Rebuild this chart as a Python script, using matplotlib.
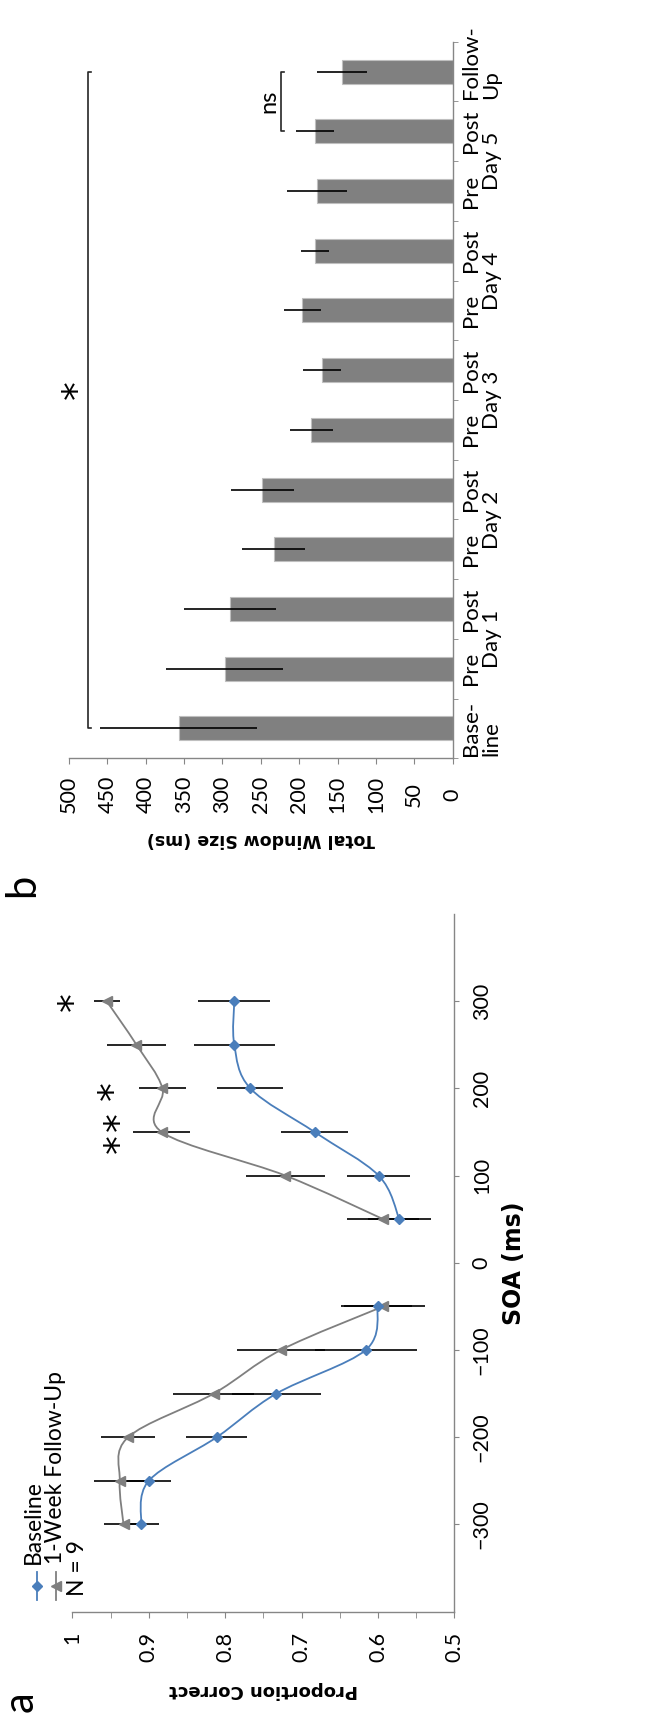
import numpy as np
import matplotlib
matplotlib.use('Agg')
import matplotlib.pyplot as plt
from matplotlib.path import Path
from matplotlib.patches import PathPatch
from matplotlib.lines import Line2D

plt.rcParams['font.family'] = ['Lato', 'DejaVu Sans']

# ---- panel a data ----
soa = [-300, -250, -200, -150, -100, -50, 50, 100, 150, 200, 250, 300]
baseline = [0.910, 0.900, 0.811, 0.733, 0.616, 0.600, 0.572, 0.599, 0.683, 0.767, 0.788, 0.788]
baseline_err = [0.023, 0.029, 0.040, 0.058, 0.067, 0.045, 0.041, 0.041, 0.044, 0.043, 0.053, 0.047]
followup = [0.933, 0.938, 0.927, 0.815, 0.727, 0.593, 0.593, 0.721, 0.883, 0.882, 0.916, 0.955]
followup_err = [0.026, 0.034, 0.035, 0.053, 0.058, 0.055, 0.047, 0.052, 0.037, 0.031, 0.038, 0.017]
prop_ticks = [0.5, 0.6, 0.7, 0.8, 0.9, 1.0]
prop_labels = ['0.5', '0.6', '0.7', '0.8', '0.9', '1']
soa_ticks = [-300, -200, -100, 0, 100, 200, 300]
stars_a = [(1.006, 300, '*'), (0.954, 198, '*'), (0.946, 149, '**')]

# ---- panel b data ----
cat_labels = ['Base-\nline', 'Pre', 'Post', 'Pre', 'Post', 'Pre', 'Post',
              'Pre', 'Post', 'Pre', 'Post', 'Follow-\nUp']
window = [357, 297, 290, 233, 248, 184, 170, 196, 179, 177, 179, 144]
window_err = [102, 76, 60, 41, 41, 28, 25, 24, 18, 39, 25, 33]
day_labels = ['Day 1', 'Day 2', 'Day 3', 'Day 4', 'Day 5']
# (first cat, last cat, value, text, text value, text cat)
brackets = [(0, 11, 475, '*', 496, 5.67), (10, 11, 224, 'ns', 240, 10.5)]

blue = '#4A7EBB'
grey = '#7F7F7F'
axis_col = '#868686'
star_kw = dict(family='DejaVu Sans', fontsize=27)


def smooth_path(xs, ys):
    # excel-style smoothed line: catmull-rom segments as cubic beziers
    p = np.column_stack([xs, ys])
    n = len(p)
    verts = [p[0]]
    codes = [Path.MOVETO]
    for i in range(n - 1):
        p0 = p[max(i - 1, 0)]
        p3 = p[min(i + 2, n - 1)]
        c1 = p[i] + (p[i + 1] - p0) / 6.0
        c2 = p[i + 1] - (p3 - p[i]) / 6.0
        verts += [c1, c2, p[i + 1]]
        codes += [Path.CURVE4] * 3
    return Path(verts, codes)


fig = plt.figure(figsize=(6.69, 17.32), dpi=100)

# ================= panel a =================
axA = fig.add_axes([0.1081, 0.0695, 0.571, 0.4028])
axA.set_xlim(1, 0.5)
axA.set_ylim(-400, 400)
for s in ['left', 'top']:
    axA.spines[s].set_visible(False)
for s in ['right', 'bottom']:
    axA.spines[s].set_color(axis_col)
    axA.spines[s].set_linewidth(1.0)

axA.set_xticks(prop_ticks)
axA.set_xticklabels(prop_labels)
axA.set_xticks([t + 0.05 for t in prop_ticks[:-1]], minor=True)
axA.tick_params(axis='x', which='both', direction='out', length=4.5,
                color=axis_col, labelsize=15.5, pad=10, labelrotation=90)
axA.yaxis.tick_right()
axA.set_yticks(soa_ticks)
axA.tick_params(axis='y', direction='out', length=3.6, color=axis_col,
                labelsize=15.5, pad=9, labelrotation=90)
for t in axA.get_yticklabels():
    t.set_va('center')

soa_arr = np.array(soa)
neg = soa_arr < 0
pos = soa_arr > 0
b = np.array(baseline)
f = np.array(followup)

axA.errorbar(followup, soa, xerr=followup_err, fmt='none', ecolor='black',
             elinewidth=1.2, capsize=0, zorder=2)
axA.errorbar(baseline, soa, xerr=baseline_err, fmt='none', ecolor='black',
             elinewidth=1.2, capsize=0, zorder=2)
for m in [neg, pos]:
    axA.add_patch(PathPatch(smooth_path(f[m], soa_arr[m]), fill=False,
                            edgecolor=grey, lw=1.3, zorder=3))
    axA.add_patch(PathPatch(smooth_path(b[m], soa_arr[m]), fill=False,
                            edgecolor=blue, lw=1.3, zorder=3))
axA.plot(followup, soa, ls='none', marker='<', ms=7, color=grey, zorder=4)
axA.plot(baseline, soa, ls='none', marker='D', ms=5, color=blue, zorder=4)

# stars, one glyph at a time so that "**" gets the wider spacing
for x, y, s in stars_a:
    for j, ch in enumerate(s):
        dy = (j - (len(s) - 1) / 2.0) * 16
        axA.annotate(ch, xy=(x, y), xytext=(5, dy), textcoords='offset points',
                     rotation=90, ha='center', va='center',
                     annotation_clip=False, **star_kw)

axA.set_xlabel('Proportion Correct', family='DejaVu Sans', fontweight='bold',
               fontsize=13, rotation=180, labelpad=14)
axA.set_ylabel('SOA (ms)', family='DejaVu Sans', fontweight='bold',
               fontsize=17, rotation=90, labelpad=7)
axA.yaxis.set_label_position('right')

# legend (rotated)
fig.add_artist(Line2D([36.7 / 669] * 2, [1 - 1600 / 1732, 1 - 1572 / 1732],
                      color=blue, lw=1.3, transform=fig.transFigure))
fig.add_artist(Line2D([36.7 / 669], [1 - 1586 / 1732], color=blue, marker='D',
                      ms=5, ls='none', transform=fig.transFigure))
fig.add_artist(Line2D([56 / 669] * 2, [1 - 1600 / 1732, 1 - 1572 / 1732],
                      color=grey, lw=1.3, transform=fig.transFigure))
fig.add_artist(Line2D([56 / 669], [1 - 1586 / 1732], color=grey, marker='<',
                      ms=7, ls='none', transform=fig.transFigure))
fig.text(33 / 669, 1 - 1564 / 1732, 'Baseline', rotation=90, ha='center',
         va='bottom', fontsize=16.5)
fig.text(55 / 669, 1 - 1564 / 1732, '1-Week Follow-Up', rotation=90,
         ha='center', va='bottom', fontsize=16.5)
fig.text(77 / 669, 1 - 1596 / 1732, 'N = 9', rotation=90, ha='center',
         va='bottom', fontsize=16.5)

# ================= panel b =================
axB = fig.add_axes([0.1031, 0.5622, 0.5735, 0.4137])
cats = np.arange(len(window))
axB.barh(cats, window, height=0.4, xerr=window_err, color='#808080',
         edgecolor='#BFBFBF', linewidth=0.8,
         error_kw=dict(ecolor='black', elinewidth=1.2, capsize=0))
axB.set_xlim(500, 0)
axB.set_ylim(-0.5, 11.5)
for s in ['left', 'top']:
    axB.spines[s].set_visible(False)
for s in ['right', 'bottom']:
    axB.spines[s].set_color(axis_col)
    axB.spines[s].set_linewidth(1.0)

axB.set_xticks(np.arange(0, 501, 50))
axB.tick_params(axis='x', direction='out', length=4, color=axis_col,
                labelsize=15.5, pad=22, labelrotation=90)
for t in axB.get_xticklabels():
    t.set_va('center')
axB.yaxis.tick_right()
axB.set_yticks(cats)
# last label is placed by hand below, shifted up like in the original
axB.set_yticklabels(cat_labels[:-1] + [''])
axB.set_yticks(np.arange(-0.5, 12, 1), minor=True)
axB.tick_params(axis='y', which='major', length=0, labelsize=16, pad=6,
                labelrotation=90)
axB.tick_params(axis='y', which='minor', direction='out', length=3.5,
                color=axis_col)
for t in axB.get_yticklabels():
    t.set_ha('left')
    t.set_va('center')
    t.set_multialignment('left')
    t.set_linespacing(1.0)
axB.annotate(cat_labels[-1], xy=(1, cats[-1]), xycoords=('axes fraction', 'data'),
             xytext=(6, 7), textcoords='offset points', rotation=90,
             ha='left', va='center', multialignment='left', linespacing=1.0,
             fontsize=16)

for k, d in enumerate(day_labels):
    axB.annotate(d, xy=(1, 2 * k + 1.5), xycoords=('axes fraction', 'data'),
                 xytext=(21, 0), textcoords='offset points', rotation=90,
                 ha='left', va='center', fontsize=16)

for c0, c1, v, s, tv, tc in brackets:
    axB.plot([v - 4, v, v, v - 4], [c1, c1, c0, c0], color='#262626', lw=1.2,
             clip_on=False)
    if s == '*':
        axB.annotate(s, xy=(tv, tc), xytext=(5, 0), textcoords='offset points',
                     rotation=90, ha='center', va='center',
                     annotation_clip=False, **star_kw)
    else:
        axB.text(tv, tc, s, rotation=90, ha='center', va='center', fontsize=17)

axB.set_xlabel('Total Window Size (ms)', family='DejaVu Sans',
               fontweight='bold', fontsize=12.5, rotation=180, labelpad=12)

fig.text(21 / 669, 1 - 1702 / 1732, 'a', rotation=90, ha='center', va='center',
         fontsize=30)
fig.text(22 / 669, 1 - 885 / 1732, 'b', rotation=90, ha='center', va='center',
         fontsize=30)

fig.savefig('out.png', dpi=100)
